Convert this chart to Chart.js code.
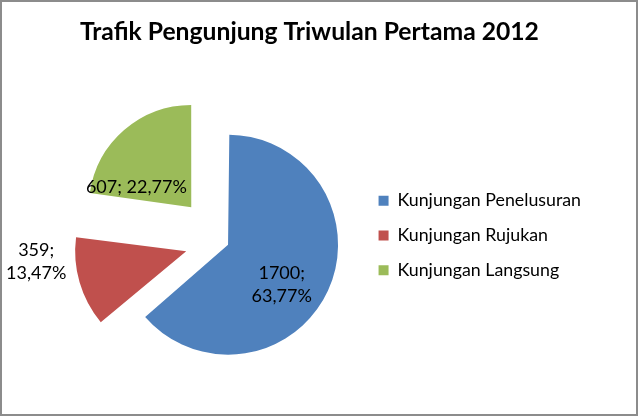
<!DOCTYPE html>
<html>
<head>
<meta charset="utf-8">
<script src="https://cdn.jsdelivr.net/npm/chart.js@4.4.1/dist/chart.umd.min.js"></script>
<style>
  html, body { margin: 0; padding: 0; background: #fff; }
  #wrap { position: relative; width: 638px; height: 416px; outline: 2px solid #8c8c8c; outline-offset: -2px; }
</style>
</head>
<body>
<div id="wrap"><canvas id="trafikChart"></canvas></div>
<script>
// data pengunjung triwulan pertama 2012
const kategori = ['Kunjungan Penelusuran', 'Kunjungan Rujukan', 'Kunjungan Langsung'];
const jumlahKunjungan = [1700, 359, 607];
const judul = 'Trafik Pengunjung Triwulan Pertama 2012';

const warna = ['#4F81BD', '#C0504D', '#9BBB59'];
// posisi label tiap irisan (jarak relatif jari-jari, geser sudut dalam derajat)
const posisiLabel = [
  { frac: 0.656, shift: 11.9, wrap: true },
  { frac: 1.474, shift: 12.4, wrap: true },
  { frac: 0.574, shift: -28.7, wrap: false }
];

const labelIrisan = {
  id: 'labelIrisan',
  afterDatasetsDraw(chart) {
    const ctx = chart.ctx;
    const meta = chart.getDatasetMeta(0);
    const total = jumlahKunjungan.reduce((a, b) => a + b, 0);
    ctx.save();
    ctx.font = '18px Lato';
    ctx.fillStyle = '#000';
    ctx.textAlign = 'center';
    ctx.textBaseline = 'middle';
    meta.data.forEach((arc, i) => {
      const p = posisiLabel[i];
      const geser = (arc.options.offset || 0) / 4;
      const mid = (arc.startAngle + arc.endAngle) / 2;
      const a = mid + p.shift * Math.PI / 180;
      const x = arc.x + Math.cos(mid) * geser + Math.cos(a) * arc.outerRadius * p.frac;
      const y = arc.y + Math.sin(mid) * geser + Math.sin(a) * arc.outerRadius * p.frac;
      const persen = (jumlahKunjungan[i] / total * 100).toFixed(2).replace('.', ',') + '%';
      const baris = p.wrap ? [jumlahKunjungan[i] + ';', persen] : [jumlahKunjungan[i] + '; ' + persen];
      baris.forEach((t, k) => ctx.fillText(t, x, y + (k - (baris.length - 1) / 2) * 23));
    });
    ctx.restore();
  }
};

new Chart(document.getElementById('trafikChart').getContext('2d'), {
  type: 'pie',
  data: {
    labels: kategori,
    datasets: [{
      data: jumlahKunjungan,
      backgroundColor: warna,
      borderWidth: 0,
      offset: [32, 144, 180],
      hoverOffset: 0
    }]
  },
  options: {
    responsive: true,
    maintainAspectRatio: false,
    animation: false,
    radius: 102,
    layout: { padding: { left: 80, right: 47, top: 0, bottom: 0 } },
    plugins: {
      title: {
        display: true,
        text: judul,
        align: 'start',
        color: '#000',
        font: { family: 'Lato', size: 24.7, weight: 'bold' },
        padding: { top: 17, bottom: 20 }
      },
      legend: {
        position: 'right',
        title: { display: true, text: '', font: { size: 10 }, padding: { top: 43, bottom: 0 } },
        labels: {
          boxWidth: 10,
          boxHeight: 10,
          padding: 17,
          color: '#000',
          font: { family: 'Lato', size: 17.8 }
        }
      },
      tooltip: { enabled: false }
    }
  },
  plugins: [labelIrisan]
});
</script>
</body>
</html>
